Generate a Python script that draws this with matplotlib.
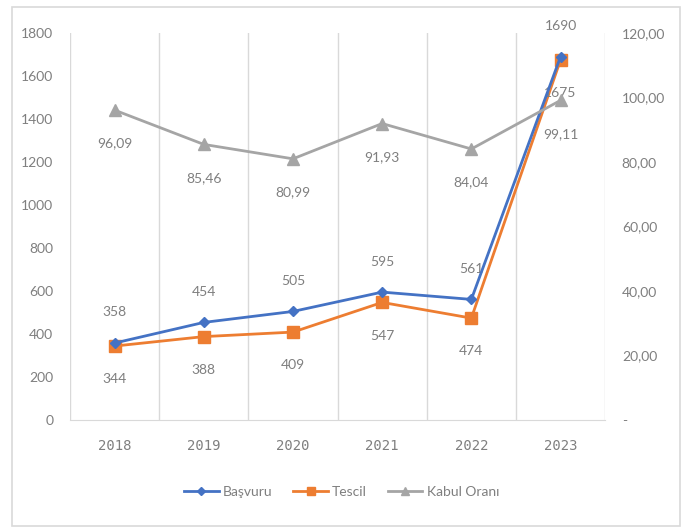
import matplotlib
matplotlib.use("Agg")
import matplotlib.pyplot as plt
from matplotlib.patches import Rectangle

# data
years = ["2018", "2019", "2020", "2021", "2022", "2023"]
basvuru = [358, 454, 505, 595, 561, 1690]
tescil = [344, 388, 409, 547, 474, 1675]
kabul_orani = [96.09, 85.46, 80.99, 91.93, 84.04, 99.11]

BLUE = "#4472C4"
ORANGE = "#ED7D31"
GRAY = "#A5A5A5"
TXT = "#7f7f7f"
GRID = "#d9d9d9"

plt.rcParams["font.family"] = ["Lato", "DejaVu Sans"]

fig = plt.figure(figsize=(6.83, 5.29), dpi=100)
ax = fig.add_axes([0.1025, 0.206, 0.7835, 0.7316])
ax2 = ax.twinx()

x = list(range(len(years)))

ax.plot(x, basvuru, color=BLUE, marker="D", markersize=5.5, linewidth=2, zorder=4, label="Başvuru")
ax.plot(x, tescil, color=ORANGE, marker="s", markersize=8, linewidth=2, zorder=3, label="Tescil")
ax2.plot(x, kabul_orani, color=GRAY, marker="^", markersize=8, linewidth=2, label="Kabul Oranı")

for xi, v in zip(x, basvuru):
    ax.annotate(str(v), (xi, v), xytext=(0, 22), textcoords="offset points",
                ha="center", va="center", fontsize=10, color=TXT)
for xi, v in zip(x, tescil):
    ax.annotate(str(v), (xi, v), xytext=(0, -24), textcoords="offset points",
                ha="center", va="center", fontsize=10, color=TXT)
for xi, v in zip(x, kabul_orani):
    ax2.annotate(f"{v:.2f}".replace(".", ","), (xi, v), xytext=(0, -24), textcoords="offset points",
                 ha="center", va="center", fontsize=10, color=TXT)

ax.set_xlim(-0.5, len(years) - 0.5)
ax.set_ylim(0, 1800)
ax.set_yticks(range(0, 1801, 200))
ax2.set_ylim(0, 120)
ax2.set_yticks(range(0, 121, 20))
ax2.set_yticklabels(["-"] + [f"{t:.2f}".replace(".", ",") for t in range(20, 121, 20)])

ax.set_xticks(x)
ax.set_xticklabels(years, fontfamily="DejaVu Sans Mono", fontsize=10, color="#6f6f6f")

# vertical gridlines between categories
for b in range(len(years) + 1):
    ax.axvline(b - 0.5, color=GRID, linewidth=1, zorder=0)

for a in (ax, ax2):
    for s in a.spines.values():
        s.set_visible(False)
    a.tick_params(length=0, labelsize=10, labelcolor=TXT)
ax.spines["bottom"].set_visible(True)
ax.spines["bottom"].set_color(GRID)
ax.tick_params(axis="y", pad=12)
ax2.tick_params(axis="y", pad=12)
ax.tick_params(axis="x", pad=14)

h1, l1 = ax.get_legend_handles_labels()
h2, l2 = ax2.get_legend_handles_labels()
fig.legend(h1 + h2, l1 + l2, loc="center", bbox_to_anchor=(0.5, 0.07), ncol=3,
           frameon=False, fontsize=10, labelcolor=TXT, handlelength=2.5,
           columnspacing=1.5, handletextpad=0.3, markerscale=0.8)

# outer chart border
fig.patches.append(Rectangle((12 / 683, 3 / 529), 668 / 683, 519 / 529, transform=fig.transFigure,
                             fill=False, edgecolor="#d9d9d9", linewidth=1.2))

fig.savefig("out.png", dpi=100)
